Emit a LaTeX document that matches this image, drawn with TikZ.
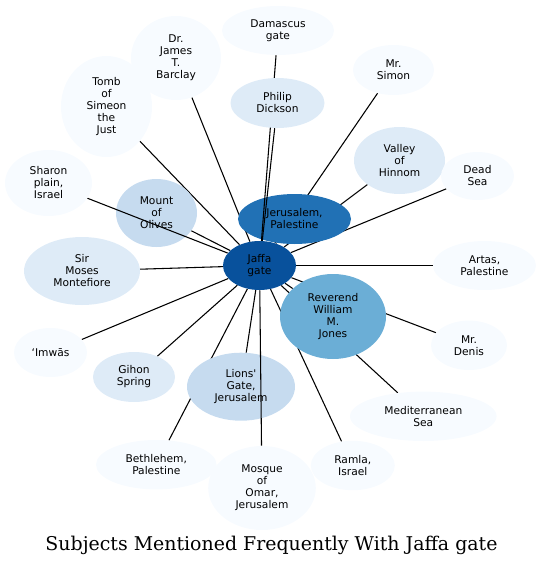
\documentclass[tikz,border=0pt]{standalone}
\usepackage{fontspec}
\usetikzlibrary{shapes.geometric}
\newfontfamily\dvsans{DejaVu Sans}
\newfontfamily\dvserif{DejaVu Serif}
\definecolor{bA}{HTML}{F7FBFF}
\definecolor{bB}{HTML}{DEEBF7}
\definecolor{bC}{HTML}{C6DBEF}
\definecolor{bD}{HTML}{6BAED6}
\definecolor{bE}{HTML}{2171B5}
\definecolor{bF}{HTML}{08519C}
\pgfdeclarelayer{edgesA}
\pgfdeclarelayer{midnodes}
\pgfdeclarelayer{edgesB}
\pgfsetlayers{edgesA,midnodes,edgesB,main}
\tikzset{
  nd/.style args={#1/#2/#3}{ellipse, draw=none, fill=#3, inner sep=0pt,
    minimum width={#1*1.5pt}, minimum height={#2*1.5pt}, align=center,
    font=\dvsans\fontsize{8}{9}\selectfont, text=black},
  lnk/.style={draw=black, line width=0.8pt}
}
\begin{document}
\begin{tikzpicture}[x=0.75pt,y=-0.75pt]
\useasboundingbox (0,0) rectangle (541,565);
% nodes on top layer
\node[nd=56/24.5/bA] (dam) at (278,30.5) {Damascus\\gate};
\node[nd=45/42/bA] (bar) at (176,58) {Dr.\\James\\T.\\Barclay};
\node[nd=45.5/50.5/bA] (tomb) at (106.5,106.5) {Tomb\\of\\Simeon\\the\\Just};
\node[nd=40.5/25/bA] (sim) at (393.5,70) {Mr.\\Simon};
\node[nd=47/25/bB] (phil) at (277.5,103) {Philip\\Dickson};
\node[nd=45.5/33.5/bB] (hin) at (399.5,160.5) {Valley\\of\\Hinnom};
\node[nd=36.5/24/bA] (dead) at (477.5,176) {Dead\\Sea};
\node[nd=43.5/33/bA] (sha) at (48.5,183) {Sharon\\plain,\\Israel};
\node[nd=36.5/24.5/bF] (jaf) at (259.5,265.5) {Jaffa\\gate};
\node[nd=58/34/bB] (mos) at (82,271) {Sir\\Moses\\Montefiore};
\node[nd=51.5/24.5/bA] (art) at (484.5,265.5) {Artas,\\Palestine};
\node[nd=53/42.5/bD] (rev) at (333,316.5) {Reverend\\William\\M.\\Jones};
\node[nd=38/24.7/bA] (den) at (469,345.3) {Mr.\\Denis};
\node[nd=36.5/24.5/bA] (imw) at (50.5,352.5) {ʻImwās};
\node[nd=41/25/bB] (gih) at (134,377) {Gihon\\Spring};
\node[nd=73.3/24.7/bA] (med) at (423.3,416.3) {Mediterranean\\Sea};
\node[nd=60.3/24.7/bA] (bet) at (156.3,464.7) {Bethlehem,\\Palestine};
\node[nd=53.8/42/bA] (omar) at (262,488) {Mosque\\of\\Omar,\\Jerusalem};
\node[nd=42/24.7/bA] (ram) at (352.8,465.5) {Ramla,\\Israel};
% nodes below some edges
\begin{pgfonlayer}{midnodes}
\node[nd=56.5/25/bE] (jer) at (294.5,219) {Jerusalem,\\Palestine};
\node[nd=40.5/34/bC] (oli) at (156.5,213) {Mount\\of\\Olives};
\node[nd=54/34/bC] (lio) at (241,386.7) {Lions'\\Gate,\\Jerusalem};
\end{pgfonlayer}
% edges hidden under all nodes
\begin{pgfonlayer}{edgesA}
\foreach \t in {bar,tomb,sim,hin,dead,oli,jer,mos,art,rev,den,imw,gih,lio,med,bet,ram}
  \draw[lnk] (jaf) -- (\t);
\end{pgfonlayer}
% edges drawn over some nodes
\begin{pgfonlayer}{edgesB}
\foreach \t in {dam,phil,sha,omar}
  \draw[lnk] (jaf) -- (\t);
\end{pgfonlayer}
\node[font=\dvserif\fontsize{14.2}{17}\selectfont, inner sep=0pt, anchor=base] (title) at (271.5,550) {Subjects Mentioned Frequently With Jaffa gate};
\end{tikzpicture}
\end{document}
